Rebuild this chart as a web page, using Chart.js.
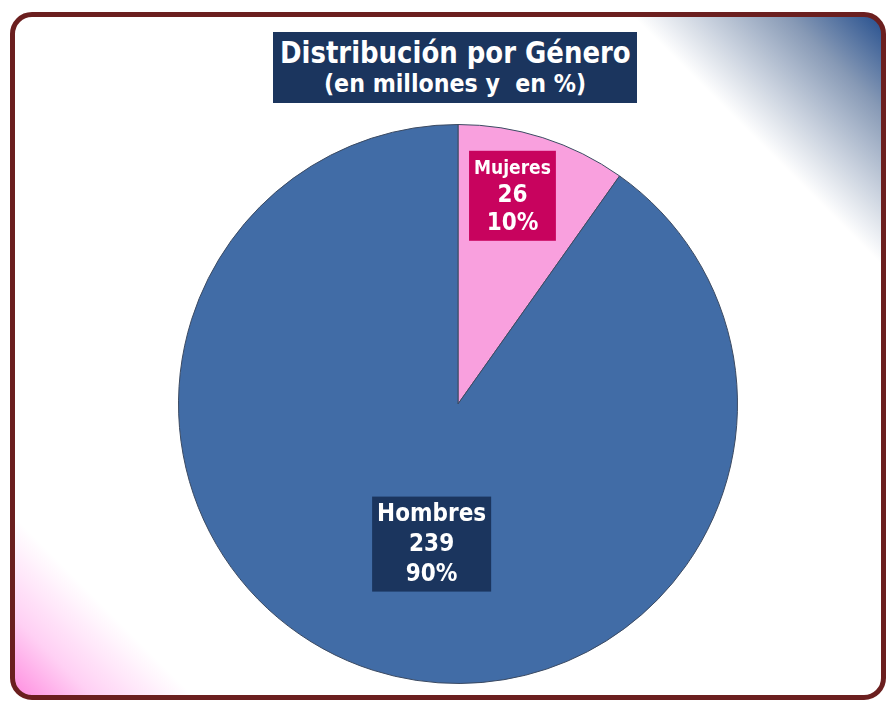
<!DOCTYPE html>
<html>
<head>
<meta charset="utf-8">
<script src="https://cdn.jsdelivr.net/npm/chart.js@4.4.1/dist/chart.umd.min.js"></script>
<style>
  html, body { margin: 0; padding: 0; width: 888px; height: 702px; overflow: hidden; background: #fff; }
  #card {
    position: absolute; left: 10px; top: 12px; width: 866px; height: 678px;
    border: 5px solid #6b1f1f; border-radius: 22px;
    background:
      linear-gradient(225deg, #28518f 0%, rgba(105,128,163,0.8) 6%, rgba(255,255,255,0) 16%),
      linear-gradient(45deg, #ff8fe0 0%, rgba(255,170,235,0.55) 5%, rgba(255,255,255,0) 11.5%),
      #fff;
  }
  #title {
    position: absolute; left: 273px; top: 32px; width: 364px; height: 71px;
    background: #1b355e; color: #fff; white-space: nowrap;
    font-family: "DejaVu Sans Condensed", "DejaVu Sans", sans-serif; font-weight: bold;
  }
  #title div { display: flex; justify-content: center; }
  #title span { display: inline-block; transform-origin: center; flex: none; }
  #title .l1 { font-size: 31px; line-height: 36px; height: 34px; margin-top: 2px; }
  #title .l2 { font-size: 25px; line-height: 30px; margin-top: 1px; }
  #wrap { position: absolute; left: 0; top: 0; width: 888px; height: 702px; }
</style>
</head>
<body>
<div id="card"></div>
<div id="title">
  <div class="l1"><span data-w="351">Distribución por Género</span></div>
  <div class="l2"><span data-w="262">(en millones y&nbsp; en %)</span></div>
</div>
<div id="wrap"><canvas id="pieChart" width="888" height="702"></canvas></div>
<script>
// data
const categories = ['Mujeres', 'Hombres'];
const values = [26, 239];           // millones
const sliceColors = ['#f9a0de', '#416ca6'];
const boxColors = ['#c8035e', '#1b355e'];

// squeeze the title lines to the reference width (narrow Tahoma-like look)
document.querySelectorAll('#title span').forEach(s => {
  s.style.transform = 'scaleX(' + (s.dataset.w / s.offsetWidth) + ')';
});

// labels drawn as boxes inside the slices
const boxLabels = {
  id: 'boxLabels',
  afterDatasetsDraw(chart, args, opts) {
    const ctx = chart.ctx;
    const meta = chart.getDatasetMeta(0);
    const total = values.reduce((a, b) => a + b, 0);
    meta.data.forEach((arc, i) => {
      const p = arc.getProps(['x', 'y', 'startAngle', 'endAngle', 'outerRadius'], true);
      const mid = (p.startAngle + p.endAngle) / 2 + opts.turn[i] * Math.PI / 180;
      const r = p.outerRadius * opts.radius[i];
      const cx = p.x + Math.cos(mid) * r;
      const cy = p.y + Math.sin(mid) * r;

      const pct = Math.round(values[i] / total * 100) + '%';
      const lines = [categories[i], String(values[i]), pct];
      const sizes = opts.sizes[i];
      const lh = opts.lineHeights[i];

      ctx.save();
      let w = 0;
      lines.forEach((t, k) => {
        ctx.font = 'bold ' + sizes[k] + 'px "DejaVu Sans Condensed", "DejaVu Sans", sans-serif';
        w = Math.max(w, ctx.measureText(t).width);
      });
      const bw = w + opts.padX * 2;
      const bh = lh.reduce((a, b) => a + b, 0) + opts.padY[i] * 2;
      ctx.fillStyle = boxColors[i];
      ctx.fillRect(cx - bw / 2, cy - bh / 2, bw, bh);

      ctx.fillStyle = '#ffffff';
      ctx.textAlign = 'center';
      ctx.textBaseline = 'middle';
      let y = cy - bh / 2 + opts.padY[i];
      lines.forEach((t, k) => {
        ctx.font = 'bold ' + sizes[k] + 'px "DejaVu Sans Condensed", "DejaVu Sans", sans-serif';
        ctx.fillText(t, cx, y + lh[k] / 2 + 1);
        y += lh[k];
      });
      ctx.restore();
    });
  }
};

new Chart(document.getElementById('pieChart').getContext('2d'), {
  type: 'pie',
  data: {
    labels: categories,
    datasets: [{
      data: values,
      backgroundColor: sliceColors,
      borderColor: '#3b4a62',
      borderWidth: 1
    }]
  },
  options: {
    responsive: false,
    animation: false,
    layout: { padding: { left: 178, right: 150, top: 124, bottom: 18 } },
    plugins: {
      legend: { display: false },
      tooltip: { enabled: false },
      title: { display: false },
      boxLabels: {
        radius: [0.77, 0.51],
        turn: [-3, -7],
        sizes: [[19, 24, 24], [24, 24, 24]],
        lineHeights: [[26, 28, 28], [29, 30, 30]],
        padX: 5,
        padY: [4, 3]
      }
    }
  },
  plugins: [boxLabels]
});
</script>
</body>
</html>
